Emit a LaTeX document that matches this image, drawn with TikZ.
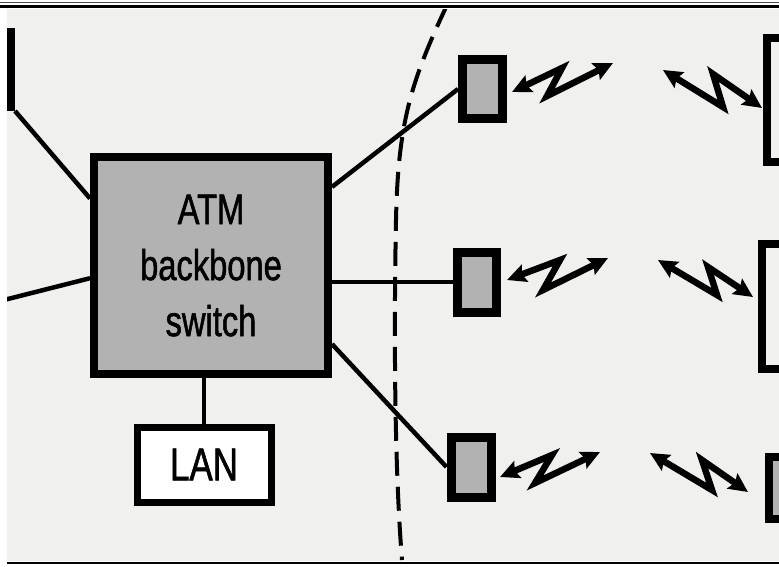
\documentclass[tikz,border=0pt]{standalone}
\usepackage{fontspec}
\newfontfamily\diagfont[FakeStretch=0.76, FakeBold=1.2]{Liberation Sans}
\usepackage{xcolor}
\usetikzlibrary{shapes,arrows.meta,positioning,calc}
\definecolor{scanbg}{RGB}{240,240,238}
\definecolor{hatchgray}{RGB}{178,178,178}

\begin{document}
\begin{tikzpicture}[x=1pt, y=-1pt,
    switchbox/.style={rectangle, draw=black, fill=hatchgray, line width=8pt, minimum width=234pt, minimum height=217pt, inner sep=0pt, align=center, font=\diagfont\fontsize{43}{56}\selectfont},
    lanbox/.style={rectangle, draw=black, fill=white, line width=7pt, minimum width=134pt, minimum height=75pt, inner sep=0pt, font=\diagfont\fontsize{46}{50}\selectfont},
    basestation/.style={rectangle, draw=black, fill=hatchgray, line width=9pt, minimum width=40pt, minimum height=59pt, inner sep=0pt},
    cellbox/.style={rectangle, draw=black, line width=8pt, inner sep=0pt},
    link/.style={line width=4.5pt},
    radio/.style={<->, >={Stealth[length=19pt, width=18pt, inset=3pt]}, line width=6.5pt},
    boundary/.style={dash pattern=on 24pt off 11pt, line width=4pt}
]
\useasboundingbox (0,0) rectangle (779,566);

% --- page rules of the scan ---
\draw[line width=1pt, black!70] (0,2.5) -- (779,2.5);
\draw[line width=3pt] (0,6.5) -- (779,6.5);
\draw[line width=2pt] (7,563) -- (779,563);

\begin{scope}
    \clip (7,9) rectangle (779,561);
    \fill[scanbg] (7,9) rectangle (779,561);

    % --- wired side ---
    \node[switchbox] (ATM) at (211,265.5) {ATM\\backbone\\switch};
    \node[lanbox] (LAN) at (204,464.5) {LAN};
    \node[cellbox, minimum width=80pt, minimum height=75pt] (Wcell) at (-29,69.5) {};
    \coordinate (Wlink) at (0,301);

    \draw[link] (Wcell.south east) -- (ATM.151);
    \draw[link] (Wlink) -- (ATM.186);
    \draw[link] (ATM.south -| LAN.north) -- (LAN.north);

    % --- base stations ---
    \node[basestation] (BS1) at (482.5,89) {};
    \node[basestation, minimum width=39pt, minimum height=60pt] (BS2) at (476.5,282) {};
    \node[basestation, minimum height=60pt] (BS3) at (471,467) {};

    \draw[link] (ATM.33) -- (BS1.west);
    \draw[link] (ATM.east |- BS2.west) -- (BS2.west);
    \draw[link] (ATM.-33) -- (BS3.west);

    % --- cells on the right ---
    \node[cellbox, minimum width=63pt, minimum height=124pt] (Cell1) at (798.5,100) {};
    \node[cellbox, minimum width=68pt, minimum height=125pt] (Cell2) at (796,306.5) {};
    \node[cellbox, fill=hatchgray, minimum width=61pt, minimum height=62pt] (Cell3) at (799.5,488) {};

    % --- radio links (zigzag double arrows) ---
    \foreach \i/\ax/\ay/\bx/\by/\cx/\cy/\dx/\dy in {
        1/512/92/562/68/547/96/613/63,
        2/507/280/560/260/543/290/608/258,
        3/500/477/552/455/535/483/600/452} {
        \coordinate (La\i) at (\ax,\ay);
        \coordinate (Lb\i) at (\bx,\by);
        \coordinate (Lc\i) at (\cx,\cy);
        \coordinate (Ld\i) at (\dx,\dy);
        \draw[radio] (La\i) -- (Lb\i) -- (Lc\i) -- (Ld\i);
    }
    \foreach \i/\ax/\ay/\bx/\by/\cx/\cy/\dx/\dy in {
        1/663/70/723/107/713/74/762/108,
        2/658/260/717/295/708/267/753/297,
        3/650/453/712/490/702/460/748/492} {
        \coordinate (Ra\i) at (\ax,\ay);
        \coordinate (Rb\i) at (\bx,\by);
        \coordinate (Rc\i) at (\cx,\cy);
        \coordinate (Rd\i) at (\dx,\dy);
        \draw[radio] (Ra\i) -- (Rb\i) -- (Rc\i) -- (Rd\i);
    }

    % --- boundary of the wireless part ---
    \draw[boundary] (447,5) .. controls (412,80) and (398,120) .. (396,220)
        .. controls (394,320) and (394,460) .. (402,560);
\end{scope}

\end{tikzpicture}
\end{document}
